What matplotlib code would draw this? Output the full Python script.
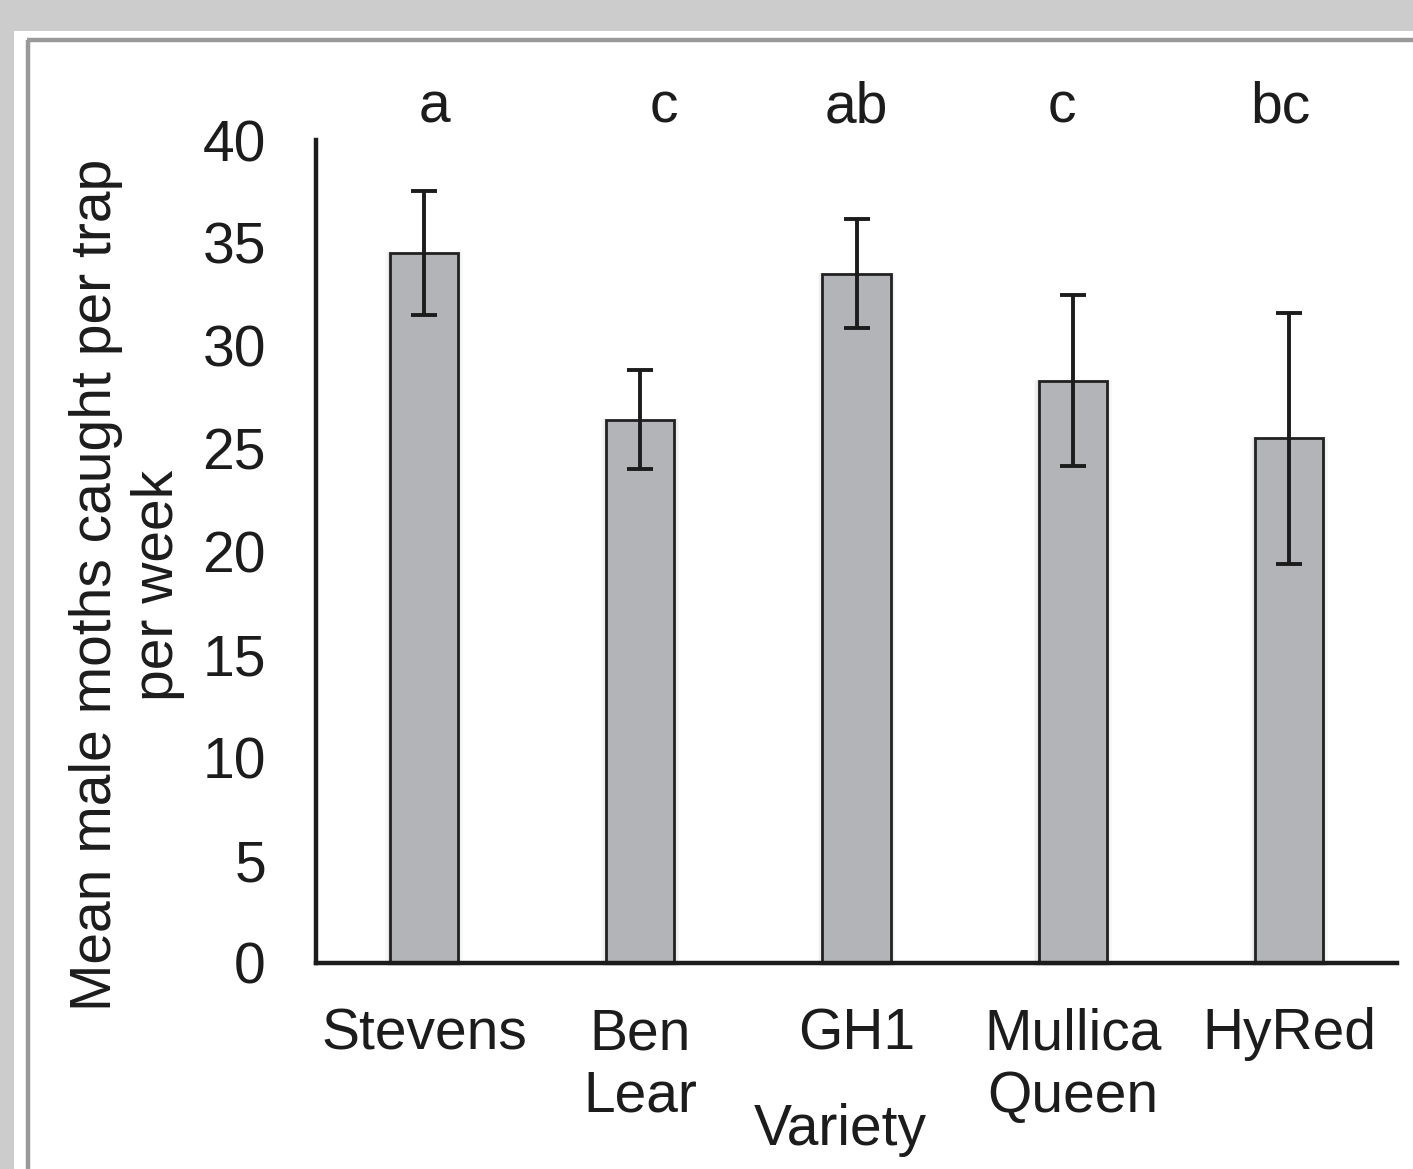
import matplotlib
matplotlib.use("Agg")
import matplotlib.pyplot as plt
from matplotlib.patches import Rectangle
from matplotlib.lines import Line2D

# ---- data ----
varieties = ["Stevens", "Ben\nLear", "GH1", "Mullica\nQueen", "HyRed"]
means = [34.5, 26.4, 33.5, 28.3, 25.5]
errors = [3.0, 2.4, 2.65, 4.15, 6.1]
letters = ["a", "c", "ab", "c", "bc"]
yticks = [0, 5, 10, 15, 20, 25, 30, 35, 40]

# ---- layout ----
W, H = 1413, 1169
DPI = 100
letter_dx = [0.05, 0.11, 0.0, -0.05, -0.04]
FS = 41

plt.rcParams['font.family'] = ['Liberation Sans', 'DejaVu Sans']
txt = '#1c1c1c'
fig = plt.figure(figsize=(W / DPI, H / DPI), dpi=DPI, facecolor='#cccccc')

# white panel and its inner border
fig.patches.append(Rectangle((14 / W, 0), 1, 1 - 31 / H, transform=fig.transFigure,
                             facecolor='white', edgecolor='none', zorder=-10))
fig.add_artist(Line2D([28 / W, 28 / W], [0, 1 - 40 / H], transform=fig.transFigure,
                      color='#999999', lw=3.2, solid_capstyle='butt', zorder=-5))
fig.add_artist(Line2D([26.5 / W, 1], [1 - 40 / H, 1 - 40 / H], transform=fig.transFigure,
                      color='#999999', lw=3.2, solid_capstyle='butt', zorder=-5))

ax = fig.add_axes([316 / W, 1 - 963 / H, (1397 - 316) / W, (963 - 140) / H])
ax.set_facecolor('none')
x = list(range(len(varieties)))

# faint shadow around bars
for k, a in [(0.36, 0.025), (0.345, 0.035), (0.33, 0.045)]:
    ax.bar(x, [m + 0.2 for m in means], width=k, bottom=-0.15, color='black',
           alpha=a, edgecolor='none', zorder=1, clip_on=False)

ax.bar(x, means, width=0.315, color='#b3b4b8', edgecolor='#222222', linewidth=2.0, zorder=2)
ax.errorbar(x, means, yerr=errors, fmt='none', ecolor='#1c1c1c', elinewidth=2.8,
            capsize=9.5, capthick=2.8, zorder=3)

ax.set_xlim(-0.5, len(varieties) - 0.5)
ax.set_ylim(0, 40)
ax.set_yticks(yticks)
ax.set_yticklabels([str(t) for t in yticks])
ax.set_xticks(x)
ax.set_xticklabels(varieties, linespacing=1.2)
ax.tick_params(axis='y', length=0, pad=36, labelsize=FS, labelcolor=txt)
ax.tick_params(axis='x', length=0, pad=32, labelsize=FS, labelcolor=txt)

for s in ['top', 'right']:
    ax.spines[s].set_visible(False)
for s in ['left', 'bottom']:
    ax.spines[s].set_linewidth(3.2)
    ax.spines[s].set_color('#1c1c1c')
ax.spines['bottom'].set_capstyle('projecting')

for i, (l, dx) in enumerate(zip(letters, letter_dx)):
    ax.text(i + dx, 40.87, l, ha='center', va='baseline', fontsize=FS, color=txt, clip_on=False)

fig.text(127 / W, 1 - 585 / H, "Mean male moths caught per trap\nper week", rotation=90,
         ha='center', va='center', fontsize=FS, color=txt, linespacing=1.2, multialignment='center')
fig.text(840 / W, 1 - 1130 / H, "Variety", ha='center', va='center', fontsize=FS, color=txt)

fig.savefig("out.png", dpi=DPI, facecolor=fig.get_facecolor())
